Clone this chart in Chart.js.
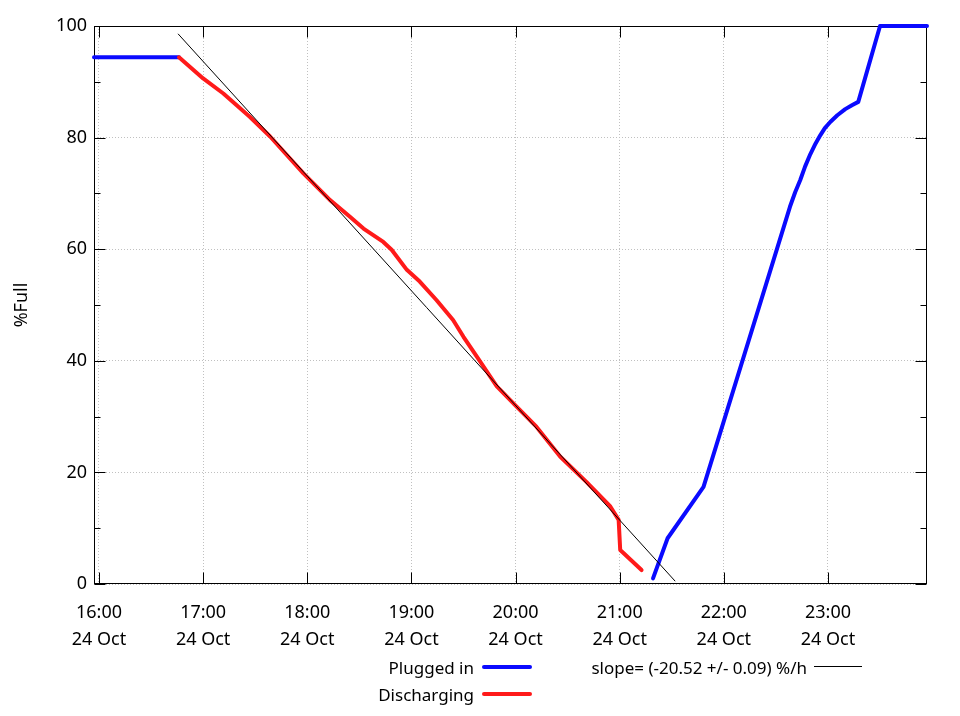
<!DOCTYPE html>
<html>
<head>
<meta charset="utf-8">
<script src="https://cdn.jsdelivr.net/npm/chart.js@4.4.1/dist/chart.umd.min.js"></script>
<style>
  body { margin: 0; background: #fff; }
  #wrap { position: relative; width: 960px; height: 716px; font-family: "Noto Sans", sans-serif; font-size: 17px; color: #000; }
  canvas { position: absolute; left: 0; top: 0; }
  .key { position: absolute; white-space: nowrap; line-height: 22px; text-align: right; }
  .sample { position: absolute; height: 4px; border-radius: 2px; }
</style>
</head>
<body>
<div id="wrap">
  <canvas id="batteryChart" width="960" height="716"></canvas>
  <div class="key" style="right:486px; top:657px;">Plugged in</div>
  <div class="sample" style="left:482px; top:665px; width:50px; background:#0a0aff;"></div>
  <div class="key" style="right:486px; top:684px;">Discharging</div>
  <div class="sample" style="left:482px; top:692px; width:50px; background:#ff1a1a;"></div>
  <div class="key" id="slopeKey" style="right:153px; top:657px;"></div>
  <div class="sample" style="left:814px; top:666px; width:48px; height:1px; border-radius:0; background:#000;"></div>
</div>
<script>
// x values are hours after 16:00 on 24 Oct
const hourTicks = [0, 1, 2, 3, 4, 5, 6, 7];
const hourLabels = ["16:00", "17:00", "18:00", "19:00", "20:00", "21:00", "22:00", "23:00"];
const dayLabel = "24 Oct";
const yMajorTicks = [0, 20, 40, 60, 80, 100];
const yMinorTicks = [10, 30, 50, 70, 90];

// plugged in, before unplugging
const plugHoursA = [-0.048, 0.45, 0.768];
const plugPctA = [94.4, 94.4, 94.4];
// plugged in again, charging
const plugHoursB = [5.32, 5.46, 5.805, 6.635, 6.685, 6.734, 6.78, 6.83, 6.88, 6.926, 6.97, 7.022, 7.09, 7.166, 7.23, 7.291, 7.50, 7.951];
const plugPctB = [1.0, 8.2, 17.4, 67.6, 70.2, 72.4, 74.8, 77.0, 78.9, 80.4, 81.7, 82.8, 84.0, 85.1, 85.8, 86.4, 100, 100];

const dischargeHours = [0.768, 1.0, 1.194, 1.45, 1.643, 1.963, 2.219, 2.41, 2.54, 2.73, 2.81, 2.956, 3.08, 3.24, 3.40, 3.50, 3.63, 3.82, 4.01, 4.20, 4.43, 4.68, 4.91, 4.99, 5.005, 5.21];
const dischargePct = [94.4, 90.6, 87.9, 83.7, 80.2, 73.6, 68.8, 65.8, 63.7, 61.3, 59.9, 56.3, 54.2, 50.9, 47.3, 44.3, 40.7, 35.4, 31.8, 28.2, 22.8, 18.3, 13.9, 11.5, 6.1, 2.5];

const fitHours = [0.759, 5.533];
const fitPct = [98.6, 0.5];
const slopeLabel = "slope= (-20.52 +/- 0.09) %/h";

document.getElementById("slopeKey").textContent = slopeLabel;

function toPoints(xs, ys) {
    return xs.map((v, i) => ({ x: v, y: ys[i] }));
}

const pluggedData = toPoints(plugHoursA, plugPctA)
    .concat([{ x: 3, y: null }])
    .concat(toPoints(plugHoursB, plugPctB));

// gnuplot style frame with inward ticks
const framePlugin = {
    id: "frame",
    beforeDatasetsDraw(chart) {
        const ctx = chart.ctx;
        const a = chart.chartArea;
        const xs = chart.scales.x;
        const ys = chart.scales.y;
        const L = Math.round(a.left) + 0.5, R = Math.round(a.right) - 0.5;
        const T = Math.round(a.top) + 0.5, B = Math.round(a.bottom) - 0.5;
        ctx.save();
        ctx.strokeStyle = "#000";
        ctx.lineWidth = 1;
        ctx.beginPath();
        hourTicks.forEach(h => {
            const px = Math.round(xs.getPixelForValue(h)) + 0.5;
            ctx.moveTo(px, B); ctx.lineTo(px, B - 11);
            ctx.moveTo(px, T); ctx.lineTo(px, T + 11);
        });
        yMajorTicks.forEach(v => {
            const py = Math.round(ys.getPixelForValue(v)) + 0.5;
            ctx.moveTo(L, py); ctx.lineTo(L + 11, py);
            ctx.moveTo(R, py); ctx.lineTo(R - 11, py);
        });
        yMinorTicks.forEach(v => {
            const py = Math.round(ys.getPixelForValue(v)) + 0.5;
            ctx.moveTo(L, py); ctx.lineTo(L + 6, py);
            ctx.moveTo(R, py); ctx.lineTo(R - 6, py);
        });
        ctx.stroke();
        ctx.strokeRect(L, T, R - L, B - T);
        ctx.restore();
    }
};

const ctx = document.getElementById("batteryChart").getContext("2d");
const fontSpec = { family: "'Noto Sans', sans-serif", size: 18 };

new Chart(ctx, {
    type: "line",
    data: {
        datasets: [
            {
                label: "slope",
                data: toPoints(fitHours, fitPct),
                borderColor: "#000",
                borderWidth: 1,
                pointRadius: 0,
                order: 0,
                clip: 6
            },
            {
                label: "Discharging",
                data: toPoints(dischargeHours, dischargePct),
                borderColor: "#ff1a1a",
                borderWidth: 4,
                pointRadius: 0,
                borderJoinStyle: "round",
                borderCapStyle: "round",
                order: 1,
                clip: 6
            },
            {
                label: "Plugged in",
                data: pluggedData,
                borderColor: "#0a0aff",
                borderWidth: 4,
                pointRadius: 0,
                borderJoinStyle: "round",
                borderCapStyle: "round",
                spanGaps: false,
                order: 2,
                clip: 6
            }
        ]
    },
    options: {
        responsive: false,
        animation: false,
        layout: { padding: { left: 0, right: 33, top: 26, bottom: 0 } },
        plugins: { legend: { display: false }, tooltip: { enabled: false } },
        scales: {
            x: {
                type: "linear",
                min: -0.048,
                max: 7.951,
                afterBuildTicks: scale => { scale.ticks = hourTicks.map(v => ({ value: v })); },
                afterFit: scale => { scale.height = 132; },
                grid: { color: "#c0c0c0", lineWidth: 1, drawTicks: false },
                border: { display: false, dash: [1, 2] },
                ticks: {
                    color: "#000",
                    font: Object.assign({ lineHeight: 1.5 }, fontSpec),
                    padding: 15,
                    maxRotation: 0,
                    callback: (v, i) => [hourLabels[i], dayLabel]
                }
            },
            y: {
                min: 0,
                max: 100,
                afterFit: scale => { scale.width = 94; },
                grid: { color: "#c0c0c0", lineWidth: 1, drawTicks: false },
                border: { display: false, dash: [1, 2] },
                ticks: { color: "#000", font: fontSpec, padding: 7, stepSize: 20 },
                title: { display: true, text: "%Full", color: "#000", font: fontSpec, padding: { top: 11, bottom: 0 } }
            }
        }
    },
    plugins: [framePlugin]
});
</script>
</body>
</html>
